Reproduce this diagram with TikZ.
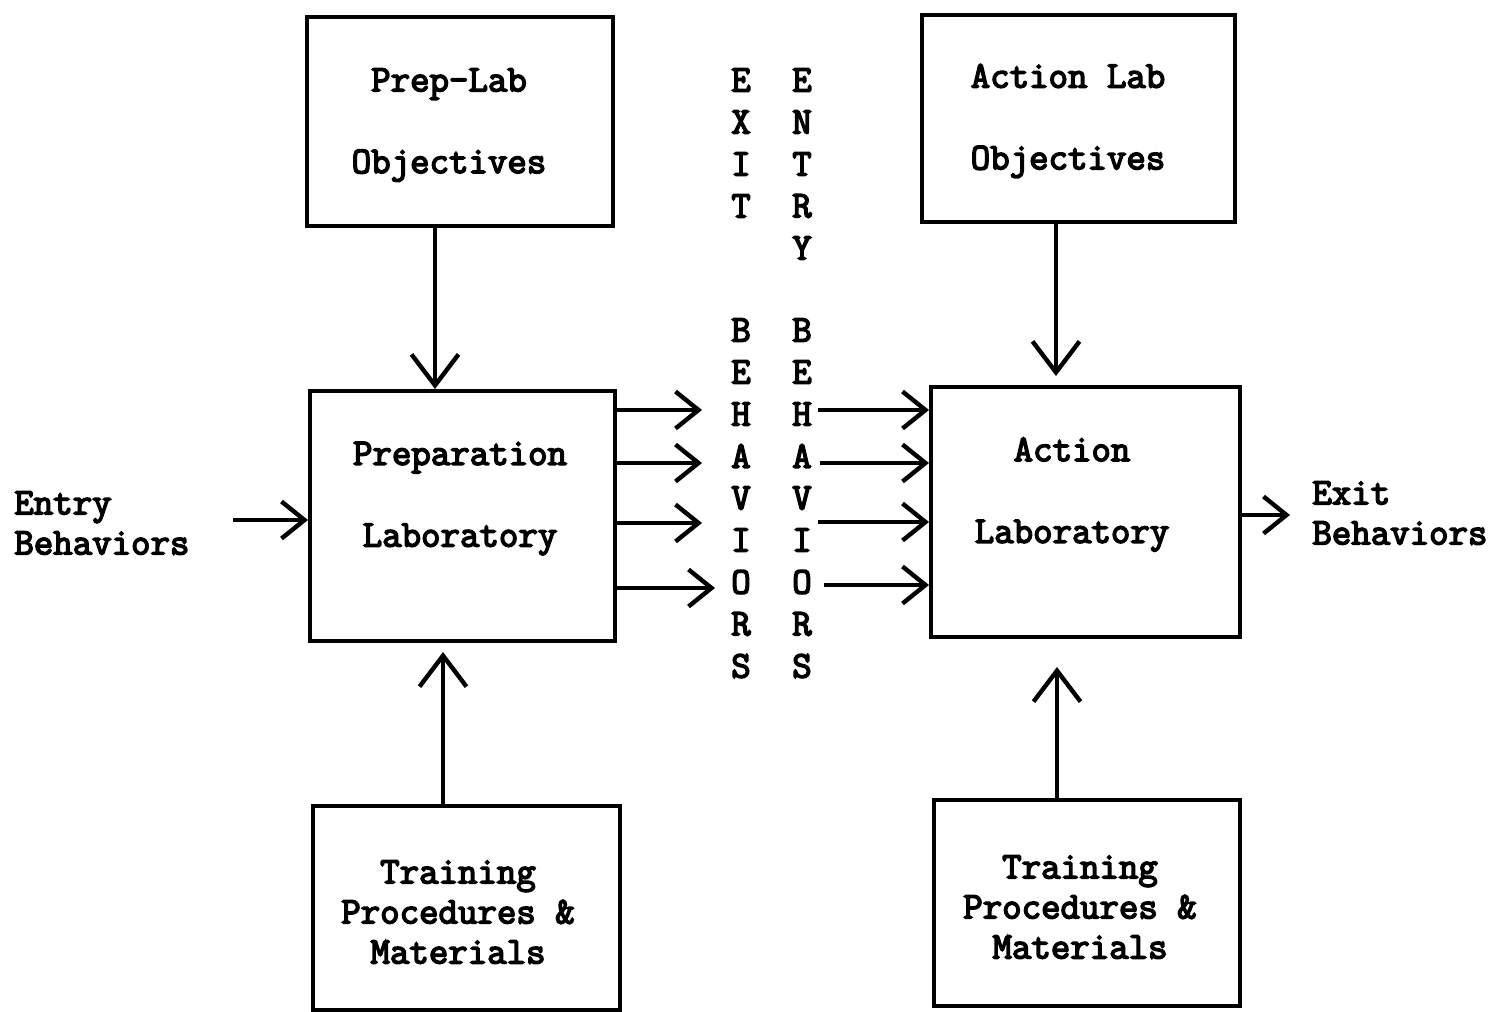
\documentclass[tikz,border=0pt]{standalone}
\usepackage{fontspec}
\setmonofont{Latin Modern Mono}[AutoFakeBold=4]
\usetikzlibrary{arrows.meta, positioning}

\begin{document}
\begin{tikzpicture}[x=0.02cm, y=-0.02cm,
            font=\fontsize{21.5}{22.8}\selectfont\ttfamily\bfseries,
            box/.style={draw, line width=2.3pt, minimum width=6.1cm},
            boxtext/.style={align=center, inner sep=0pt, font=\fontsize{21.5}{46.5}\selectfont\ttfamily\bfseries},
            listtext/.style={align=center, inner sep=0pt},
            letter/.style={inner sep=0pt},
            bigarr/.style={line width=2.5pt, -{Straight Barb[length=0.62cm, width=0.94cm]}},
            smallarr/.style={line width=2.5pt, -{Straight Barb[length=0.46cm, width=0.74cm]}}
        ]
            \useasboundingbox (0,0) rectangle (1496,1011);

            % boxes
            \node[box, minimum width=6.12cm, minimum height=4.18cm] (prepobj) at (460,121.5) {};
            \node[box, minimum width=6.26cm, minimum height=4.14cm] (actobj) at (1078.5,118.5) {};
            \node[box, minimum width=6.10cm, minimum height=5.00cm] (prep) at (462.5,516) {};
            \node[box, minimum width=6.18cm, minimum height=5.00cm] (act) at (1085.5,512) {};
            \node[box, minimum width=6.14cm, minimum height=4.08cm] (trainL) at (466.5,908) {};
            \node[box, minimum width=6.12cm, minimum height=4.12cm] (trainR) at (1087,903) {};

            % box texts
            \node[boxtext] (prepobjtxt) at (449,125) {Prep-Lab\\Objectives};
            \node[boxtext] (actobjtxt) at (1068,121) {Action Lab\\Objectives};
            \node[boxtext] (preptxt) at (460,498.5) {Preparation\\Laboratory};
            \node[boxtext] (acttxt) at (1072,494.5) {Action\\Laboratory};
            \node[listtext] (trainLtxt) at (458,912) {Training\\Procedures \&\\Materials};
            \node[listtext] (trainRtxt) at (1080,907) {Training\\Procedures \&\\Materials};

            % side labels
            \node[align=left, inner sep=0pt, anchor=west] (entry) at (14,523) {Entry\\Behaviors};
            \node[align=left, inner sep=0pt, anchor=west] (exit) at (1312,513) {Exit\\Behaviors};

            % letter columns
            \foreach \ch [count=\i] in {E,X,I,T}
                \node[letter] (exit\i) at (741,{80+42*(\i-1)}) {\ch};
            \foreach \ch [count=\i] in {E,N,T,R,Y}
                \node[letter] (entry\i) at (802,{80+42*(\i-1)}) {\ch};
            \foreach \ch [count=\i] in {B,E,H,A,V,I,O,R,S} {
                \node[letter] (exitb\i) at (741,{330+42*(\i-1)}) {\ch};
                \node[letter] (entryb\i) at (802,{330+42*(\i-1)}) {\ch};
            }

            % vertical arrows
            \draw[bigarr] (prepobj.south -| 435,0) -- (prep.north -| 435,0);
            \draw[bigarr, shorten >=0.18cm] (actobj.south -| 1056,0) -- (act.north -| 1056,0);
            \draw[bigarr, shorten >=0.18cm] (trainL.north -| 443,0) -- (prep.south -| 443,0);
            \draw[bigarr, shorten >=0.56cm] (trainR.north -| 1057,0) -- (act.south -| 1057,0);

            % behaviors out of and into the labs
            \foreach \yy/\xx [count=\i] in {410/702, 463/702, 523/702, 588/715} {
                \coordinate (out\i) at (\xx,\yy);
                \draw[smallarr] (prep.east |- out\i) -- (out\i);
            }
            \foreach \yy/\xx [count=\i] in {410/818, 463/820, 522/818, 585/824} {
                \coordinate (in\i) at (\xx,\yy);
                \draw[smallarr] (in\i) -- (in\i -| act.west);
            }

            \coordinate (entrytail) at (233,520);
            \draw[smallarr] (entrytail) -- (entrytail -| prep.west);
            \coordinate (exittip) at (1290,515);
            \draw[smallarr] (act.east |- exittip) -- (exittip);
        \end{tikzpicture}
\end{document}
